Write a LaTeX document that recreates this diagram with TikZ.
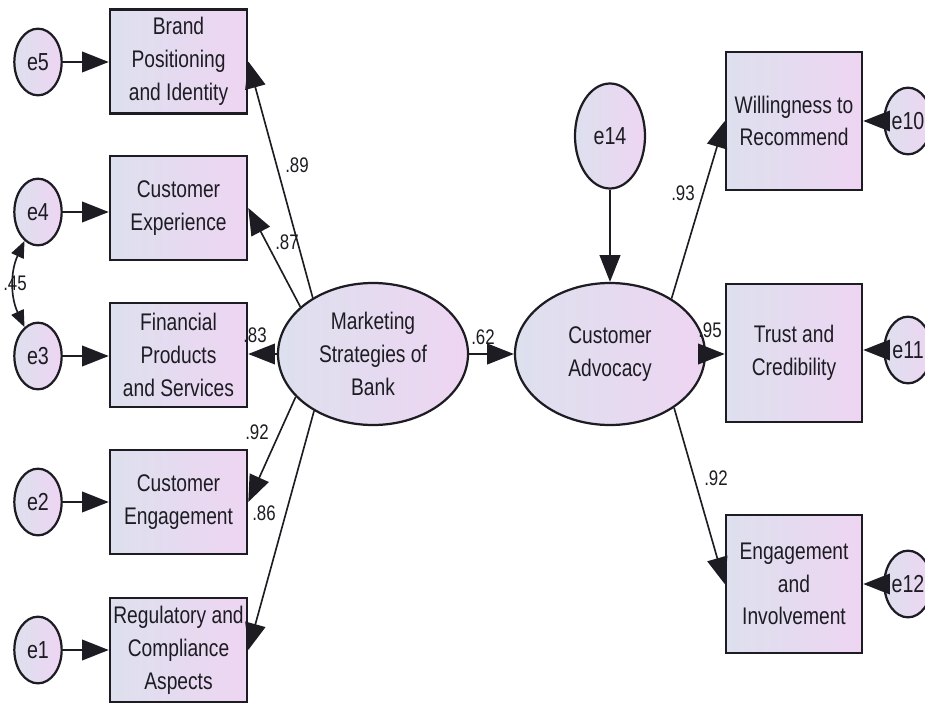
\documentclass[tikz,border=0pt]{standalone}
\usepackage{fontspec}
\setmainfont{Liberation Sans}[FakeStretch=0.8]
\usepackage{tikz}
\usetikzlibrary{arrows.meta,shapes.geometric}
\definecolor{cLeft}{HTML}{DDE0EE}
\definecolor{cRight}{HTML}{EED5F2}
\definecolor{cInk}{HTML}{1C1C22}
\tikzset{
  obs/.style={draw=cInk, line width=2.2pt, left color=cLeft, right color=cRight,
    align=center, inner sep=0pt, text=cInk, font=\fontsize{20.5}{28}\selectfont},
  obsL/.style={obs, minimum width=4.11cm, minimum height=3.12cm},
  obsR/.style={obs, minimum width=4.08cm, minimum height=4.14cm},
  lat/.style={ellipse, draw=cInk, line width=1.9pt, left color=cLeft, right color=cRight,
    align=center, inner sep=0pt, minimum width=5.7cm, minimum height=4.26cm,
    text=cInk, font=\fontsize{20.5}{28}\selectfont},
  err/.style={ellipse, draw=cInk, line width=1.9pt, left color=cLeft, right color=cRight,
    inner sep=0pt, minimum width=1.42cm, minimum height=2cm,
    text=cInk, font=\fontsize{21}{21}\selectfont},
  load/.style={draw=cInk, line width=1.4pt, -{Triangle[length=0.8cm, width=0.62cm]}},
  covar/.style={draw=cInk, line width=1.4pt,
    {Triangle[length=0.5cm, width=0.4cm]}-{Triangle[length=0.5cm, width=0.4cm]}},
  coef/.style={inner sep=0pt, text=cInk, font=\fontsize{18}{18}\selectfont},
}

\begin{document}
\begin{tikzpicture}[x=0.03cm, y=-0.03cm]
\useasboundingbox (0,0) rectangle (925,704);
% indicators of the first construct
\node[obsL] (brand) at (178.5,61.5) {Brand\\Positioning\\and Identity};
\node[obsL] (exper) at (178.5,208) {Customer\\Experience};
\node[obsL] (finan) at (178.5,355) {Financial\\Products\\and Services};
\node[obsL] (engag) at (178.5,502) {Customer\\Engagement};
\node[obsL] (regul) at (178.5,650) {Regulatory and\\Compliance\\Aspects};
\node[err] (e5) at (38,62) {e5};
\node[err] (e4) at (38,212) {e4};
\node[err] (e3) at (38,356) {e3};
\node[err] (e2) at (38,502) {e2};
\node[err] (e1) at (38,650) {e1};
% latent variables
\node[lat] (mark) at (373,354) {Marketing\\Strategies of\\Bank};
\node[lat] (advoc) at (610,354) {Customer\\Advocacy};
\node[err, minimum width=2.1cm, minimum height=3.15cm] (e14) at (610,136) {e14};
% indicators of the second construct
\node[obsR] (will) at (794,121) {Willingness to\\Recommend};
\node[obsR] (trust) at (794,353) {Trust and\\Credibility};
\node[obsR] (invol) at (794,584) {Engagement\\and\\Involvement};
\node[err] (e10) at (908,121) {e10};
\node[err] (e11) at (908,350) {e11};
\node[err] (e12) at (908,584) {e12};

% error terms
\foreach \e/\o in {e5/brand, e4/exper, e3/finan, e2/engag, e1/regul}
  \draw[load] (\e.east) -- (\e.east -| \o.west);
\foreach \e/\o in {e10/will, e11/trust, e12/invol}
  \draw[load] (\e.west) -- (\e.west -| \o.east);
\draw[load] (e14) -- (advoc);
\draw[covar] (e4.245) to[bend right=25] (e3.115);

% loadings and structural path
\draw[load] (mark.137) -- (brand.east);
\draw[load] (mark.147) -- (exper.east);
\draw[load] (mark.west) -- (mark.west -| finan.east);
\draw[load] (mark.209) -- (engag.east);
\draw[load] (mark.224) -- (regul.east);
\draw[load] (mark.east) -- (advoc.west);
\draw[load] (advoc.42) -- (will.west);
\draw[load] (advoc.east) -- (advoc.east -| trust.west);
\draw[load] (advoc.-40) -- (invol.west);

% estimates
\node[coef] (c89) at (297,165) {.89};
\node[coef] (c87) at (287,242) {.87};
\node[coef] (c83) at (255,335) {.83};
\node[coef] (c92a) at (257,432) {.92};
\node[coef] (c86) at (264,513) {.86};
\node[coef] (c62) at (483,337) {.62};
\node[coef] (c93) at (683,193) {.93};
\node[coef] (c95) at (710,330) {.95};
\node[coef] (c92b) at (716,478) {.92};
\node[coef] (c45) at (15,283) {.45};
\end{tikzpicture}
\end{document}
